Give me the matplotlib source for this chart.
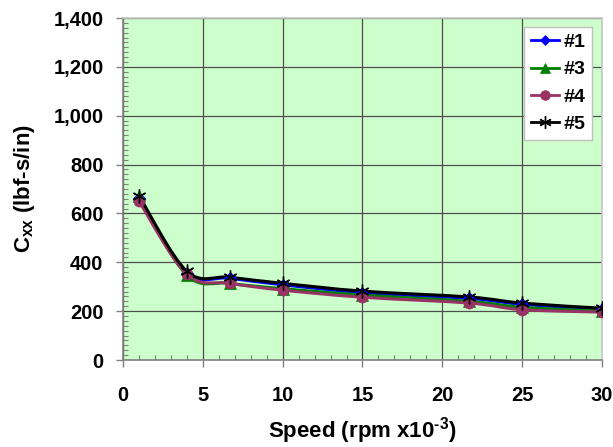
import matplotlib
matplotlib.use("Agg")
import matplotlib.pyplot as plt
from matplotlib.path import Path
from matplotlib.patches import PathPatch
from matplotlib.lines import Line2D
from matplotlib.ticker import MultipleLocator, FuncFormatter

plt.rcParams['font.family'] = ['Liberation Sans', 'DejaVu Sans']
plt.rcParams['font.weight'] = 'bold'
plt.rcParams['mathtext.fontset'] = 'custom'
plt.rcParams['mathtext.rm'] = 'Liberation Sans:bold'
plt.rcParams['mathtext.it'] = 'Liberation Sans:bold'
plt.rcParams['mathtext.bf'] = 'Liberation Sans:bold'

# speed (rpm x 10^-3)
speed = [1, 4, 6.7, 10, 15, 21.7, 25, 30]

# damping Cxx (lbf-s/in) per bearing
cxx_1 = [662, 358, 335, 308, 276, 252, 228, 207]
cxx_3 = [670, 347, 314, 292, 266, 240, 216, 200]
cxx_4 = [650, 351, 314, 286, 257, 233, 206, 196]
cxx_5 = [673, 363, 339, 314, 282, 258, 233, 212]

labels = ['#1', '#3', '#4', '#5']
colors = ['#0000ff', '#008000', '#993366', '#000000']
markers = ['D', '^', 'o', (6, 2, 0)]
msizes = [6, 8, 8, 10]


def smooth_path(xs, ys):
    """Excel-like smoothed line: cubic Bezier segments with Catmull-Rom tangents."""
    n = len(xs)
    verts = [(xs[0], ys[0])]
    codes = [Path.MOVETO]
    for i in range(n - 1):
        i0 = max(i - 1, 0)
        i3 = min(i + 2, n - 1)
        c1 = (xs[i] + (xs[i + 1] - xs[i0]) / 6, ys[i] + (ys[i + 1] - ys[i0]) / 6)
        c2 = (xs[i + 1] - (xs[i3] - xs[i]) / 6, ys[i + 1] - (ys[i3] - ys[i]) / 6)
        verts += [c1, c2, (xs[i + 1], ys[i + 1])]
        codes += [Path.CURVE4] * 3
    return Path(verts, codes)


fig = plt.figure(figsize=(6.13, 4.47), dpi=100)
ax = fig.add_axes([0.2007, 0.1946, 0.7813, 0.7651])
ax.set_facecolor('#ccffcc')

handles = []
for ys, lab, col, mk, ms in zip([cxx_1, cxx_3, cxx_4, cxx_5], labels, colors, markers, msizes):
    ax.add_patch(PathPatch(smooth_path(speed, ys), facecolor='none', edgecolor=col,
                           lw=2.2, zorder=3))
    ax.plot(speed, ys, linestyle='none', marker=mk, color=col, markersize=ms,
            markeredgecolor=col, markeredgewidth=1.0 if mk == (6, 2, 0) else 0.5, zorder=4)
    handles.append(Line2D([], [], color=col, lw=2.0, marker=mk, markersize=ms - 1,
                          markeredgecolor=col, markeredgewidth=1.0 if mk == (6, 2, 0) else 0.5,
                          label=lab))

ax.set_xlim(0, 30)
ax.set_ylim(0, 1400)
ax.xaxis.set_major_locator(MultipleLocator(5))
ax.xaxis.set_minor_locator(MultipleLocator(1))
ax.yaxis.set_major_locator(MultipleLocator(200))
ax.yaxis.set_minor_locator(MultipleLocator(20))
ax.yaxis.set_major_formatter(FuncFormatter(lambda v, p: f'{v:,.0f}'))

ax.grid(True, which='major', color='#4d4d4d', lw=0.9, zorder=1)
ax.set_axisbelow(True)
ax.tick_params(which='major', direction='out', length=5, width=1, color='#808080',
               labelsize=14.5)
ax.tick_params(axis='x', which='major', pad=14)
ax.tick_params(axis='y', which='major', pad=9)
ax.tick_params(which='minor', direction='in', length=3.5, width=0.8, color='#808080')

for side in ['left', 'bottom']:
    ax.spines[side].set_color('#808080')
    ax.spines[side].set_linewidth(1.2)
for side in ['top', 'right']:
    ax.spines[side].set_color('#c8c8c8')
    ax.spines[side].set_linewidth(1.2)

ax.set_xlabel(r'Speed (rpm x10$^{\text{-3}}$)', fontsize=16, fontweight='bold', labelpad=7)
ax.set_ylabel('C$_{xx}$ (lbf-s/in)', fontsize=16, fontweight='bold', labelpad=12)

leg = ax.legend(handles=handles, loc='upper right', bbox_to_anchor=(0.98, 0.975),
                fontsize=14, frameon=True, fancybox=False, handlelength=1.45,
                handletextpad=0.25, borderpad=0.35, labelspacing=0.5, borderaxespad=0)
leg.get_frame().set_edgecolor('#c0c0c0')
leg.get_frame().set_linewidth(1)
leg.get_frame().set_facecolor('white')
leg.get_frame().set_alpha(1)

fig.savefig('out.png', dpi=100)
